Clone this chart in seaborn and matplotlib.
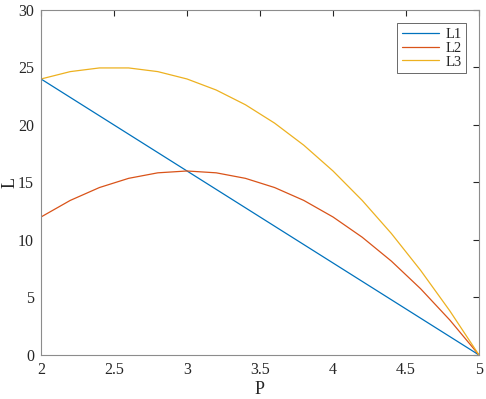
import numpy as np
import pandas as pd
import matplotlib
matplotlib.use("Agg")
import matplotlib.pyplot as plt
import seaborn as sns

# values
P = [2.0, 2.2, 2.4, 2.6, 2.8, 3.0, 3.2, 3.4, 3.6, 3.8, 4.0, 4.2, 4.4, 4.6, 4.8, 5.0]
L1 = [24, 22.4, 20.8, 19.2, 17.6, 16, 14.4, 12.8, 11.2, 9.6, 8, 6.4, 4.8, 3.2, 1.6, 0]
L2 = [12, 13.44, 14.56, 15.36, 15.84, 16, 15.84, 15.36, 14.56, 13.44, 12, 10.24, 8.16, 5.76, 3.04, 0]
L3 = [24, 24.64, 24.96, 24.96, 24.64, 24, 23.04, 21.76, 20.16, 18.24, 16, 13.44, 10.56, 7.36, 3.84, 0]

df = pd.DataFrame({"P": P, "L1": L1, "L2": L2, "L3": L3})
long_df = df.melt(id_vars="P", var_name="series", value_name="L")

sns.set_style("white")
plt.rcParams["font.family"] = ["Liberation Serif"]

palette = {"L1": "#0072BD", "L2": "#D95319", "L3": "#EDB120"}

fig = plt.figure(figsize=(4.86, 3.99), dpi=100)
ax = fig.add_axes([0.0844, 0.1103, 0.9012, 0.8647])
sns.lineplot(data=long_df, x="P", y="L", hue="series", palette=palette,
             linewidth=0.9, ax=ax)

ax.set_xlim(2, 5)
ax.set_ylim(0, 30)
ax.set_xticks([2, 2.5, 3, 3.5, 4, 4.5, 5])
ax.set_xticklabels(["2", "2.5", "3", "3.5", "4", "4.5", "5"])
ax.set_yticks([0, 5, 10, 15, 20, 25, 30])
ax.tick_params(direction="in", length=4, width=0.8, colors="#262626",
               labelsize=11.5, top=True, right=True, pad=5)
for s in ax.spines.values():
    s.set_color("#8c8c8c")
    s.set_linewidth(0.8)
ax.set_xlabel("P", fontsize=13, labelpad=2)
ax.set_ylabel("L", fontsize=13)
ax.yaxis.set_label_coords(-0.052, 0.5)

leg = ax.legend(loc="upper right", fontsize=10.5, frameon=True, fancybox=False,
                edgecolor="#262626", handlelength=2.6, borderaxespad=0.9,
                labelspacing=0.05, borderpad=0.3, handletextpad=0.4)
leg.get_frame().set_linewidth(0.6)

fig.savefig("out.png", dpi=100)
